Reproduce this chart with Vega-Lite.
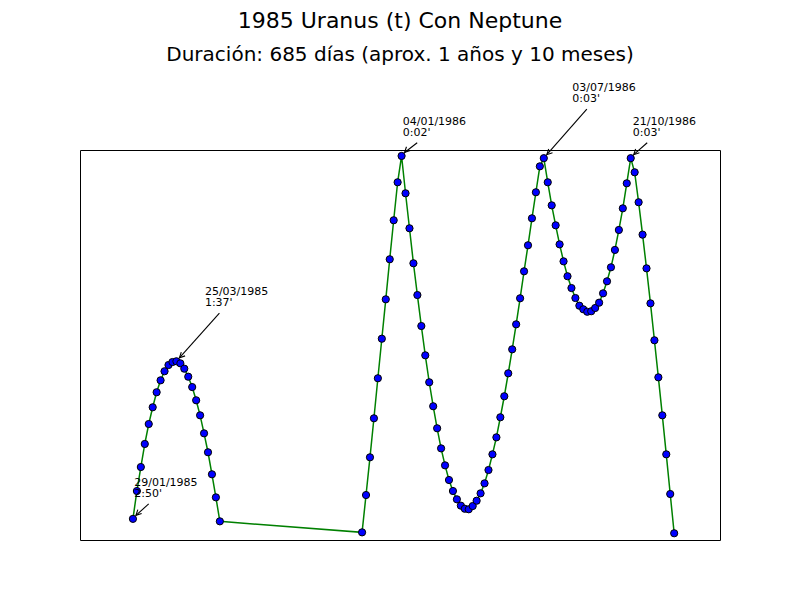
{
  "$schema": "https://vega.github.io/schema/vega-lite/v6.json",
  "width": 640,
  "height": 390,
  "autosize": {"type": "none"},
  "padding": {"left": 80, "top": 150, "right": 80, "bottom": 60},
  "background": "white",
  "config": {"view": {"stroke": "black", "strokeWidth": 1}, "font": "DejaVu Sans"},
  "title": {
    "text": "1985 Uranus (t) Con Neptune",
    "subtitle": "Duración: 685 días (aprox. 1 años y 10 meses)",
    "font": "DejaVu Sans",
    "fontSize": 22,
    "fontWeight": "normal",
    "color": "black",
    "subtitleFont": "DejaVu Sans",
    "subtitleFontSize": 20,
    "subtitleColor": "black",
    "anchor": "middle",
    "offset": 16,
    "subtitlePadding": 12
  },
  "datasets": {
    "sep": [
      {"d": 0, "v": 2.833}, {"d": 5, "v": 2.618}, {"d": 10, "v": 2.433}, {"d": 15, "v": 2.255}, {"d": 20, "v": 2.101},
      {"d": 25, "v": 1.972}, {"d": 30, "v": 1.856}, {"d": 35, "v": 1.764}, {"d": 40, "v": 1.694}, {"d": 45, "v": 1.646},
      {"d": 50, "v": 1.623}, {"d": 55, "v": 1.617}, {"d": 60, "v": 1.633}, {"d": 65, "v": 1.674}, {"d": 70, "v": 1.736},
      {"d": 75, "v": 1.816}, {"d": 80, "v": 1.918}, {"d": 85, "v": 2.034}, {"d": 90, "v": 2.173}, {"d": 95, "v": 2.319},
      {"d": 100, "v": 2.489}, {"d": 105, "v": 2.667}, {"d": 110, "v": 2.852},
      {"d": 290, "v": 2.937}, {"d": 295, "v": 2.649}, {"d": 300, "v": 2.358}, {"d": 305, "v": 2.057}, {"d": 310, "v": 1.748},
      {"d": 315, "v": 1.443}, {"d": 320, "v": 1.139}, {"d": 325, "v": 0.830}, {"d": 330, "v": 0.529}, {"d": 335, "v": 0.236},
      {"d": 340, "v": 0.033}, {"d": 345, "v": 0.321}, {"d": 350, "v": 0.591}, {"d": 355, "v": 0.861}, {"d": 360, "v": 1.106},
      {"d": 365, "v": 1.345}, {"d": 370, "v": 1.571}, {"d": 375, "v": 1.779}, {"d": 380, "v": 1.964}, {"d": 385, "v": 2.134},
      {"d": 390, "v": 2.289}, {"d": 395, "v": 2.420}, {"d": 400, "v": 2.533}, {"d": 405, "v": 2.618}, {"d": 410, "v": 2.682},
      {"d": 415, "v": 2.731}, {"d": 420, "v": 2.755}, {"d": 425, "v": 2.759}, {"d": 430, "v": 2.734}, {"d": 435, "v": 2.693},
      {"d": 440, "v": 2.636}, {"d": 445, "v": 2.559}, {"d": 450, "v": 2.456}, {"d": 455, "v": 2.335}, {"d": 460, "v": 2.204},
      {"d": 465, "v": 2.049}, {"d": 470, "v": 1.887}, {"d": 475, "v": 1.710}, {"d": 480, "v": 1.525}, {"d": 485, "v": 1.332},
      {"d": 490, "v": 1.131}, {"d": 495, "v": 0.923}, {"d": 500, "v": 0.722}, {"d": 505, "v": 0.514}, {"d": 510, "v": 0.313},
      {"d": 515, "v": 0.113}, {"d": 520, "v": 0.05}, {"d": 525, "v": 0.236}, {"d": 530, "v": 0.414}, {"d": 535, "v": 0.568},
      {"d": 540, "v": 0.715}, {"d": 545, "v": 0.846}, {"d": 550, "v": 0.961}, {"d": 555, "v": 1.052}, {"d": 560, "v": 1.129},
      {"d": 565, "v": 1.188}, {"d": 570, "v": 1.216}, {"d": 575, "v": 1.235}, {"d": 580, "v": 1.231}, {"d": 585, "v": 1.206},
      {"d": 590, "v": 1.165}, {"d": 595, "v": 1.093}, {"d": 600, "v": 1.000}, {"d": 605, "v": 0.892}, {"d": 610, "v": 0.758},
      {"d": 615, "v": 0.604}, {"d": 620, "v": 0.437}, {"d": 625, "v": 0.244}, {"d": 630, "v": 0.05}, {"d": 635, "v": 0.159},
      {"d": 640, "v": 0.390}, {"d": 645, "v": 0.640}, {"d": 650, "v": 0.900}, {"d": 655, "v": 1.170}, {"d": 660, "v": 1.455},
      {"d": 665, "v": 1.741}, {"d": 670, "v": 2.034}, {"d": 675, "v": 2.335}, {"d": 680, "v": 2.641}, {"d": 685, "v": 2.944}
    ],
    "notes": [
      {"d": 0, "v": 2.833, "td": 1.6, "tv": 2.579, "label": "29/01/1985\n2:50'"},
      {"d": 55, "v": 1.617, "td": 91.1, "tv": 1.106, "label": "25/03/1985\n1:37'"},
      {"d": 340, "v": 0.033, "td": 341.4, "tv": -0.208, "label": "04/01/1986\n0:02'"},
      {"d": 520, "v": 0.05, "td": 556.1, "tv": -0.468, "label": "03/07/1986\n0:03'"},
      {"d": 630, "v": 0.05, "td": 632.5, "tv": -0.208, "label": "21/10/1986\n0:03'"}
    ]
  },
  "encoding": {
    "x": {"field": "d", "type": "quantitative", "axis": null, "scale": {"domain": [-67, 743], "nice": false, "zero": false}},
    "y": {"field": "v", "type": "quantitative", "axis": null, "scale": {"domain": [-0.013, 2.996], "nice": false, "zero": false, "reverse": true}}
  },
  "layer": [
    {
      "data": {"name": "sep"},
      "mark": {"type": "line", "color": "#008000", "strokeWidth": 1.5}
    },
    {
      "data": {"name": "sep"},
      "mark": {"type": "point", "shape": "circle", "filled": true, "fill": "#0000ff", "stroke": "black", "strokeWidth": 1, "size": 52, "opacity": 1}
    },
    {
      "data": {"name": "notes"},
      "mark": {"type": "rule", "color": "black", "strokeWidth": 1.1, "xOffset": 14.5, "yOffset": 18, "x2Offset": 3, "y2Offset": -3.5},
      "encoding": {
        "x": {"field": "td", "type": "quantitative"},
        "y": {"field": "tv", "type": "quantitative"},
        "x2": {"field": "d"},
        "y2": {"field": "v"}
      }
    },
    {
      "data": {"name": "notes"},
      "mark": {"type": "point", "shape": "M0.949,-0.316L0,0L0.316,-0.949", "filled": false, "stroke": "black", "strokeWidth": 1.1, "size": 144, "opacity": 1, "xOffset": 3, "yOffset": -3.5}
    },
    {
      "data": {"name": "notes"},
      "mark": {"type": "text", "align": "left", "baseline": "alphabetic", "font": "DejaVu Sans", "fontSize": 11, "lineHeight": 11, "lineBreak": "\n", "color": "black"},
      "encoding": {
        "x": {"field": "td", "type": "quantitative"},
        "y": {"field": "tv", "type": "quantitative"},
        "text": {"field": "label"}
      }
    }
  ]
}
